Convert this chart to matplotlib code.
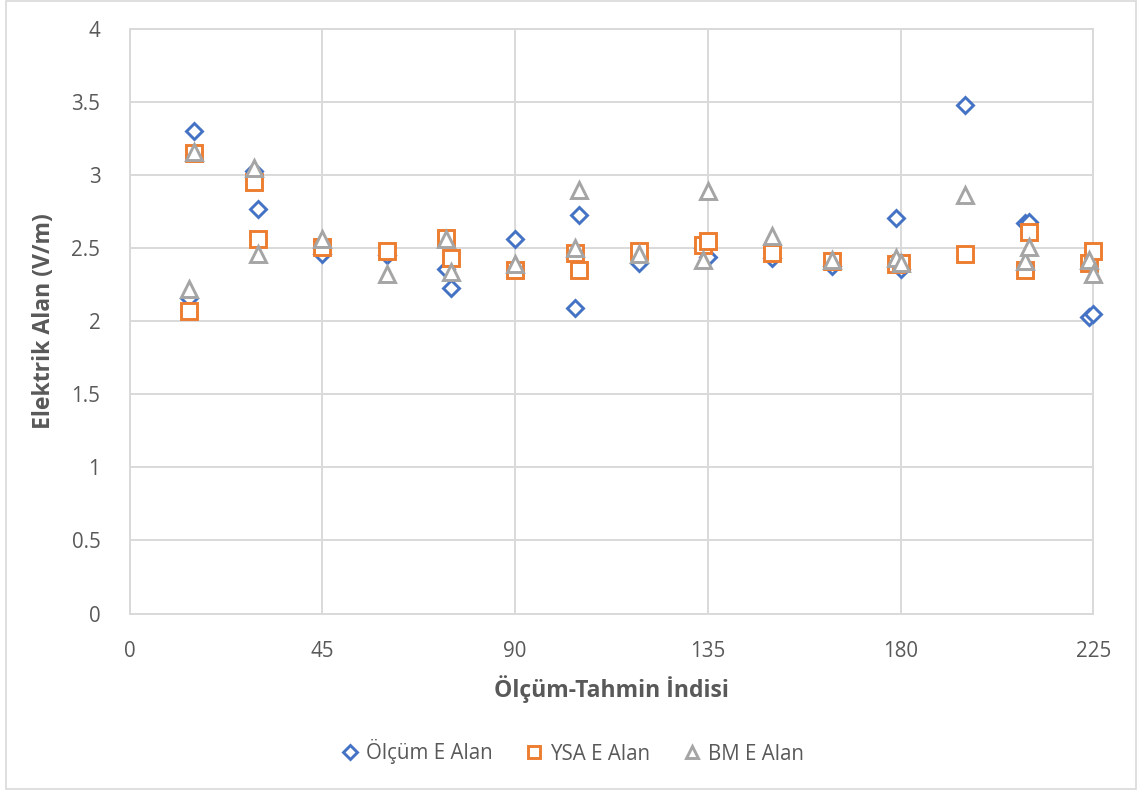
import matplotlib
matplotlib.use("Agg")
import matplotlib.pyplot as plt
from matplotlib.patches import Rectangle

# ---- data ----
idx = [14, 15, 29, 30, 45, 60, 74, 75, 90, 104, 105, 119, 134, 135,
       150, 164, 179, 180, 195, 209, 210, 224, 225]
olcum = [2.16, 3.30, 3.03, 2.77, 2.46, 2.45, 2.36, 2.23, 2.56, 2.09, 2.73, 2.40,
         2.50, 2.44, 2.43, 2.38, 2.71, 2.36, 3.48, 2.67, 2.68, 2.03, 2.05]
ysa = [2.07, 3.15, 2.95, 2.56, 2.51, 2.48, 2.57, 2.43, 2.35, 2.47, 2.35, 2.48,
       2.52, 2.55, 2.47, 2.41, 2.39, 2.40, 2.46, 2.35, 2.61, 2.40, 2.48]
bm = [2.22, 3.16, 3.05, 2.46, 2.56, 2.32, 2.56, 2.34, 2.39, 2.50, 2.90, 2.46,
      2.42, 2.89, 2.58, 2.42, 2.43, 2.40, 2.865, 2.41, 2.51, 2.42, 2.32]
series_names = ["Ölçüm E Alan", "YSA E Alan", "BM E Alan"]
xticks = [0, 45, 90, 135, 180, 225]
yticks = [0, 0.5, 1, 1.5, 2, 2.5, 3, 3.5, 4]
ytick_labels = ["0", "0.5", "1", "1.5", "2", "2.5", "3", "3.5", "4"]
xlabel = "Ölçüm-Tahmin İndisi"
ylabel = "Elektrik Alan (V/m)"

plt.rcParams['font.family'] = ['Open Sans', 'DejaVu Sans']
TXT = "#595959"
GRID = "#D9D9D9"

W, H = 1139, 791
fig = plt.figure(figsize=(W / 100, H / 100), dpi=100)

# outer chart border
fig.patches.append(Rectangle((6 / W, 1 - 789 / H), (1136 - 6) / W, (789 - 1) / H,
                             transform=fig.transFigure, fill=False,
                             edgecolor=GRID, linewidth=1.2))

L, R, T, B = 129.5, 1093.3, 29.0, 613.5
ax = fig.add_axes([L / W, 1 - B / H, (R - L) / W, (B - T) / H])

ax.plot(idx, olcum, linestyle='none', marker='D', markersize=8.2,
        markerfacecolor='white', markeredgecolor='#4472C4', markeredgewidth=2.1,
        label=series_names[0], zorder=3, clip_on=False)
ax.plot(idx, ysa, linestyle='none', marker='s', markersize=11,
        markerfacecolor='white', markeredgecolor='#ED7D31', markeredgewidth=2.1,
        label=series_names[1], zorder=4, clip_on=False)
ax.plot(idx, bm, linestyle='none', marker='^', markersize=11,
        markerfacecolor='white', markeredgecolor='#A5A5A5', markeredgewidth=2.1,
        label=series_names[2], zorder=5, clip_on=False)

ax.set_xlim(0, 225)
ax.set_ylim(0, 4)
ax.set_xticks(xticks)
ax.set_xticklabels([str(v) for v in xticks])
ax.set_yticks(yticks)
ax.set_yticklabels(ytick_labels)
ax.grid(True, color=GRID, linewidth=1.4, zorder=0)
ax.set_axisbelow(True)
for s in ax.spines.values():
    s.set_color(GRID)
    s.set_linewidth(1.4)
ax.tick_params(axis='both', length=0, labelsize=14.8, labelcolor=TXT)
ax.tick_params(axis='x', pad=20)
ax.tick_params(axis='y', pad=21)

ax.set_xlabel(xlabel, fontsize=16.6, fontweight='bold', color=TXT, labelpad=9)
ax.set_ylabel(ylabel, fontsize=16.6, fontweight='bold', color=TXT, labelpad=11)

fig.legend(loc='center', bbox_to_anchor=(0.502, 1 - 752 / H), ncol=3, frameon=False,
           fontsize=14.8, labelcolor=TXT, handlelength=1.0, handletextpad=0.3,
           columnspacing=1.5, markerscale=0.85)

fig.savefig("out.png", dpi=100)
